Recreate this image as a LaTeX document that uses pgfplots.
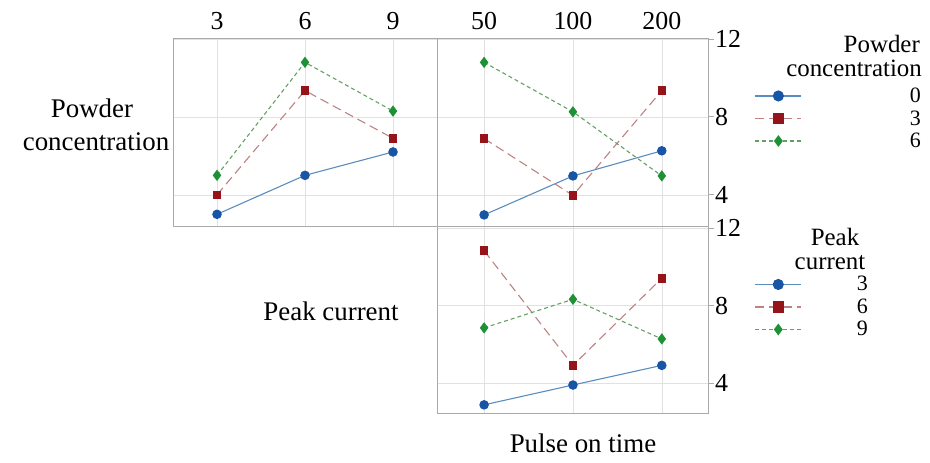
\documentclass[border=0pt]{standalone}
\usepackage{fontspec}
\setmainfont{Liberation Serif}
\usepackage{pgfplots}
\pgfplotsset{compat=1.18}
\definecolor{mblue}{RGB}{25,85,165}
\definecolor{lblue}{RGB}{90,140,190}
\definecolor{mred}{RGB}{150,20,25}
\definecolor{lred}{RGB}{190,130,130}
\definecolor{mgreen}{RGB}{30,145,55}
\definecolor{lgreen}{RGB}{100,160,100}
\definecolor{gridc}{RGB}{225,225,225}
\definecolor{framec}{RGB}{170,170,170}
\pgfplotsset{
  pan/.style={scale only axis, grid=major,
    major grid style={gridc, line width=0.6pt},
    axis line style={framec, line width=0.9pt},
    tick label style={font=\fontsize{26}{26}\selectfont},
    /pgf/number format/assume math mode=true,
    xtick={0,1,2}, ytick={4,8,12},
    x tick style={draw=none},
    y tick style={framec, line width=0.9pt},
    major tick length=6bp,
    legend image code/.code={\draw[mark repeat=2,mark phase=2,mark size=5bp] plot coordinates {(0bp,0bp) (23bp,0bp) (46bp,0bp)};},
  },
  rightticks/.style={ytick pos=right, yticklabel pos=right, ytick align=outside,
    yticklabels={4,8,12}, yticklabel style={inner sep=1bp}},
  sblue/.style={lblue, line width=1.1pt, solid, mark=*, mark size=4.2bp, mark options={solid, fill=mblue, draw=mblue}},
  sred/.style={lred, line width=1.1pt, dash pattern=on 9bp off 5bp, mark=square*, mark size=3.7bp, mark options={solid, fill=mred, draw=mred}},
  sgreen/.style={lgreen, line width=1.1pt, dash pattern=on 4bp off 3bp, mark=diamond*, mark size=4.8bp, mark options={solid, fill=mgreen, draw=mgreen}},
  legsty/.style={legend style={draw=none, fill=none, inner sep=0pt, column sep=0pt, row sep=4.5bp,
    font=\fontsize{22}{22}\selectfont, nodes={inner sep=1bp}}, legend cell align=right},
}
\begin{document}
\begin{tikzpicture}
\path[use as bounding box] (0,0) rectangle (930bp,-463bp);
% top-left: x = Peak current, lines = Powder concentration
\begin{axis}[pan, at={(173bp,-226bp)}, anchor=south west, width=264bp, height=188bp,
  xmin=-0.5, xmax=2.5, ymin=2.4, ymax=12.05,
  xticklabels={3,6,9}, xticklabel pos=right, xtick pos=right,
  xticklabel style={yshift=5bp},
  yticklabels={}, y tick style={draw=none}]
\addplot[sblue] coordinates {(0,3.0) (1,5.0) (2,6.2)};
\addplot[sred] coordinates {(0,4.0) (1,9.35) (2,6.9)};
\addplot[sgreen] coordinates {(0,5.0) (1,10.8) (2,8.3)};
\end{axis}
% top-right: x = Pulse on time, lines = Powder concentration
\begin{axis}[pan, rightticks, legsty, at={(437bp,-226bp)}, anchor=south west, width=271bp, height=188bp,
  xmin=-0.53, xmax=2.52, ymin=2.4, ymax=12.05,
  xticklabels={50,100,200}, xticklabel pos=right, xtick pos=right,
  xticklabel style={yshift=5bp},
  legend style={at={(1.790,0.572)}, anchor=east}]
\addplot[sblue] coordinates {(0,2.97) (1,4.97) (2,6.26)};
\addlegendentry{\hspace*{107bp}0}
\addplot[sred] coordinates {(0,6.89) (1,3.97) (2,9.35)};
\addlegendentry{\hspace*{107bp}3}
\addplot[sgreen] coordinates {(0,10.8) (1,8.26) (2,4.97)};
\addlegendentry{\hspace*{107bp}6}
\end{axis}
% bottom: x = Pulse on time, lines = Peak current
\begin{axis}[pan, rightticks, legsty, at={(437bp,-413bp)}, anchor=south west, width=271bp, height=187bp,
  xmin=-0.53, xmax=2.52, ymin=2.48, ymax=12.1,
  xticklabels={},
  legend style={at={(1.594,0.567)}, anchor=east}]
\addplot[sblue] coordinates {(0,2.9) (1,3.92) (2,4.93)};
\addlegendentry{\hspace*{54bp}3}
\addplot[sred] coordinates {(0,10.83) (1,4.93) (2,9.41)};
\addlegendentry{\hspace*{54bp}6}
\addplot[sgreen] coordinates {(0,6.86) (1,8.33) (2,6.29)};
\addlegendentry{\hspace*{54bp}9}
\end{axis}
\begin{scope}[every node/.style={inner sep=0pt, font=\fontsize{27}{27}\selectfont}]
\node[anchor=base] at (92bp,-117bp) {Powder};
\node[anchor=base] at (96bp,-150bp) {concentration};
\node[anchor=base] at (331bp,-320bp) {Peak current};
\node[anchor=base] at (583bp,-452bp) {Pulse on time};
\end{scope}
\begin{scope}[every node/.style={inner sep=0pt, font=\fontsize{25}{25}\selectfont}]
\node[anchor=base east] at (920bp,-52bp) {Powder};
\node[anchor=base east] at (922bp,-76bp) {concentration};
\node[anchor=base] at (835bp,-245bp) {Peak};
\node[anchor=base] at (830bp,-269bp) {current};
\end{scope}
\end{tikzpicture}
\end{document}
